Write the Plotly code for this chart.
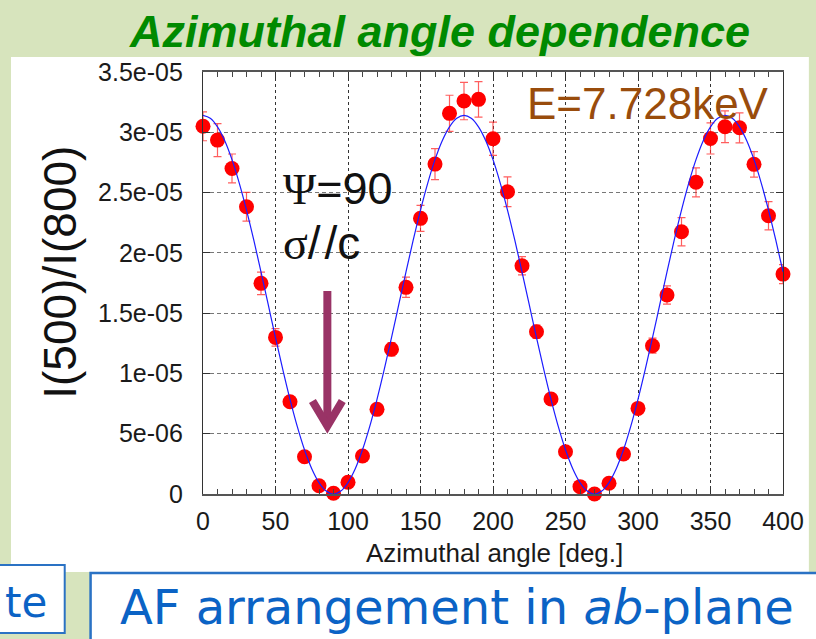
import plotly.graph_objects as go

# ---------------------------------------------------------------------------
# Data: I(500)/I(800) ratio versus azimuthal angle (values in units of 1e-5)
# ---------------------------------------------------------------------------
UNIT = 1e-5

angle_deg = [0, 10, 20, 30, 40, 50, 60, 70, 80, 90,
             100, 110, 120, 130, 140, 150, 160, 170, 180, 190,
             200, 210, 220, 230, 240, 250, 260, 270, 280, 290,
             300, 310, 320, 330, 340, 350, 360, 370, 380, 390, 400]

ratio = [3.050, 2.935, 2.700, 2.382, 1.747, 1.299, 0.765, 0.309, 0.069, 0.006,
         0.097, 0.315, 0.702, 1.200, 1.714, 2.286, 2.736, 3.157, 3.259, 3.273,
         2.947, 2.507, 1.893, 1.346, 0.788, 0.351, 0.061, 0.000, 0.089, 0.332,
         0.710, 1.230, 1.650, 2.175, 2.585, 2.949, 3.046, 3.037, 2.734, 2.308, 1.824]

ratio_err = [0.120, 0.137, 0.120, 0.119, 0.094, 0.073, 0.045, 0.025, 0.010, 0.005,
             0.010, 0.025, 0.042, 0.055, 0.084, 0.108, 0.129, 0.150, 0.155, 0.148,
             0.138, 0.124, 0.076, 0.055, 0.045, 0.025, 0.010, 0.005, 0.010, 0.025,
             0.042, 0.062, 0.076, 0.117, 0.120, 0.129, 0.131, 0.124, 0.106, 0.117, 0.079]

# Fitted curve sampled every 5 degrees
fit_angle = list(range(0, 401, 5))
fit_ratio = [3.140, 3.116, 3.045, 2.930, 2.773, 2.579, 2.355, 2.107, 1.843, 1.570,
             1.297, 1.033, 0.785, 0.561, 0.367, 0.210, 0.095, 0.024, 0.000, 0.024,
             0.095, 0.210, 0.367, 0.561, 0.785, 1.033, 1.297, 1.570, 1.843, 2.107,
             2.355, 2.579, 2.773, 2.930, 3.045, 3.116,
             3.140, 3.116, 3.045, 2.930, 2.773, 2.579, 2.355, 2.107, 1.843, 1.570,
             1.297, 1.033, 0.785, 0.561, 0.367, 0.210, 0.095, 0.024, 0.000, 0.024,
             0.095, 0.210, 0.367, 0.561, 0.785, 1.033, 1.297, 1.570, 1.843, 2.107,
             2.355, 2.579, 2.773, 2.930, 3.045, 3.116,
             3.140, 3.116, 3.045, 2.930, 2.773, 2.579, 2.355, 2.107, 1.843]

x_tickvals = [0, 50, 100, 150, 200, 250, 300, 350, 400]
x_ticktext = ["0", "50", "100", "150", "200", "250", "300", "350", "400"]
y_tickvals = [0, 5e-6, 1e-5, 1.5e-5, 2e-5, 2.5e-5, 3e-5, 3.5e-5]
y_ticktext = ["0", "5e-06", "1e-05", "1.5e-05", "2e-05", "2.5e-05", "3e-05", "3.5e-05"]

# ---------------------------------------------------------------------------
# Page geometry (pixels) and helpers to convert to paper coordinates
# ---------------------------------------------------------------------------
W, H = 816, 639
PL, PR, PT, PB = 203, 786, 72, 494


def fx(px):
    return (px - PL) / (PR - PL)


def fy(py):
    return (PB - py) / (PB - PT)


SANS = "Liberation Sans, Arial, Helvetica, sans-serif"
BOX_FONT = "DejaVu Sans, Noto Sans, sans-serif"
BLUE_TXT = "#0b63c5"
BLUE_LINE = "#2a72c4"
ARROW = "#993366"

fig = go.Figure()

fig.add_trace(go.Scatter(
    x=angle_deg,
    y=[v * UNIT for v in ratio],
    mode="markers",
    marker=dict(color="#ff0000", size=15, line=dict(width=0)),
    error_y=dict(type="data", array=[e * UNIT for e in ratio_err],
                 color="rgba(255,40,40,0.75)", thickness=1.2, width=4),
    cliponaxis=False,
    showlegend=False,
))

fig.add_trace(go.Scatter(
    x=fit_angle,
    y=[v * UNIT for v in fit_ratio],
    mode="lines",
    line=dict(color="#1c1cff", width=1.2, shape="spline"),
    showlegend=False,
))

fig.update_xaxes(
    range=[0, 400],
    tickvals=x_tickvals, ticktext=x_ticktext,
    ticks="inside", ticklen=7, tickcolor="#333",
    minor=dict(dtick=10, ticks="inside", ticklen=5, tickcolor="#444", showgrid=False),
    showgrid=True, gridcolor="#333", griddash="3px,3px", gridwidth=1,
    showline=True, linecolor="#555", linewidth=1.5, mirror="ticks",
    tickfont=dict(family=SANS, size=25, color="#1a1a1a"),
    ticklabelstandoff=4,
    zeroline=False,
)
fig.update_yaxes(
    range=[0, 3.5e-5],
    tickvals=y_tickvals, ticktext=y_ticktext,
    ticks="inside", ticklen=7, tickcolor="#333",
    showgrid=True, gridcolor="#777", griddash="4px,3px", gridwidth=1,
    showline=True, linecolor="#333", linewidth=1.2, mirror="ticks",
    tickfont=dict(family=SANS, size=25, color="#1a1a1a"),
    ticklabelstandoff=14,
    zeroline=False,
)

shapes = [
    # white slide panel behind the graph
    dict(type="rect", xref="paper", yref="paper",
         x0=fx(10), x1=fx(812), y0=fy(572), y1=fy(57),
         fillcolor="white", line=dict(width=0), layer="below"),
    # arrow pointing at the minimum
    dict(type="line", xref="paper", yref="paper",
         x0=fx(328), x1=fx(328), y0=fy(291), y1=fy(424),
         line=dict(color=ARROW, width=8), layer="above"),
    dict(type="path", xref="paper", yref="paper",
         path="M {:.5f} {:.5f} L {:.5f} {:.5f} L {:.5f} {:.5f}".format(
             fx(313), fy(401), fx(328), fy(426), fx(343), fy(401)),
         line=dict(color=ARROW, width=8), layer="above"),
    # bottom text boxes
    dict(type="rect", xref="paper", yref="paper",
         x0=fx(-4), x1=fx(64), y0=fy(633), y1=fy(565),
         fillcolor="white", line=dict(color=BLUE_LINE, width=2), layer="above"),
    dict(type="rect", xref="paper", yref="paper",
         x0=fx(90), x1=fx(822), y0=fy(646), y1=fy(573),
         fillcolor="white", line=dict(color=BLUE_LINE, width=2.5), layer="above"),
]

annotations = [
    dict(text="<b><i>Azimuthal angle dependence</i></b>",
         x=fx(441), y=fy(32), xanchor="center", yanchor="middle",
         font=dict(family=SANS, size=45, color="#008a00")),
    dict(text="I(500)/I(800)", textangle=-90,
         x=fx(59), y=fy(272), xanchor="center", yanchor="middle",
         font=dict(family=SANS, size=46, color="#111")),
    dict(text="Azimuthal angle [deg.]",
         x=fx(496), y=fy(553), xanchor="center", yanchor="middle",
         font=dict(family=SANS, size=26, color="#1a1a1a")),
    dict(text="E=7.728keV",
         x=fx(527), y=fy(103), xanchor="left", yanchor="middle",
         font=dict(family=SANS, size=44, color="#994c0c")),
    dict(text="<span style='font-family:Liberation Serif'>\u03a8</span>=90",
         x=fx(281), y=fy(188), xanchor="left", yanchor="middle",
         font=dict(family=SANS, size=45, color="#111")),
    dict(text="<span style='font-family:Liberation Serif'>\u03c3</span>/\u200a/c",
         x=fx(281), y=fy(243), xanchor="left", yanchor="middle",
         font=dict(family=SANS, size=46, color="#111")),
    dict(text="te",
         x=fx(2), y=fy(602), xanchor="left", yanchor="middle",
         font=dict(family=BOX_FONT, size=42, color=BLUE_TXT)),
    dict(text="AF arrangement in <i>ab</i>-plane",
         x=fx(118), y=fy(607), xanchor="left", yanchor="middle",
         font=dict(family=BOX_FONT, size=48, color=BLUE_TXT)),
]
for a in annotations:
    a.update(xref="paper", yref="paper", showarrow=False)

fig.update_layout(
    width=W, height=H, autosize=False,
    margin=dict(l=PL, r=W - PR, t=PT, b=H - PB, pad=0),
    paper_bgcolor="#d7e4bd",
    plot_bgcolor="white",
    shapes=shapes,
    annotations=annotations,
)

fig.write_html("out.html")
